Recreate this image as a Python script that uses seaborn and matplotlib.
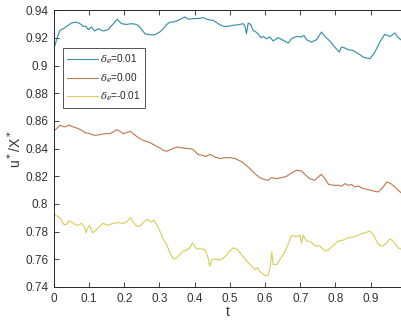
import numpy as np
import pandas as pd
import matplotlib
matplotlib.use("Agg")
import matplotlib.pyplot as plt
import seaborn as sns

# data, (t, u*/X*) pairs
pts_a = [(0.000, 0.912), (0.008, 0.919), (0.017, 0.9255), (0.027, 0.9267), (0.036, 0.9284), (0.050, 0.9308),
         (0.064, 0.9315), (0.074, 0.9303), (0.083, 0.9284), (0.091, 0.9284), (0.098, 0.926), (0.107, 0.9279),
         (0.116, 0.925), (0.126, 0.9267), (0.140, 0.925), (0.154, 0.926), (0.169, 0.9303), (0.180, 0.9335),
         (0.192, 0.9303), (0.206, 0.9298), (0.221, 0.9303), (0.235, 0.9298), (0.244, 0.9279), (0.259, 0.923),
         (0.273, 0.9223), (0.287, 0.9223), (0.301, 0.9243), (0.311, 0.9267), (0.320, 0.9296), (0.330, 0.9315),
         (0.339, 0.9315), (0.353, 0.9327), (0.363, 0.934), (0.372, 0.9352), (0.382, 0.9335), (0.396, 0.934),
         (0.410, 0.934), (0.424, 0.9347), (0.438, 0.9332), (0.453, 0.9327), (0.467, 0.9303), (0.481, 0.9284),
         (0.495, 0.9284), (0.509, 0.9291), (0.524, 0.9296), (0.538, 0.9303), (0.543, 0.9284), (0.547, 0.923),
         (0.552, 0.9308), (0.559, 0.9298), (0.566, 0.9255), (0.574, 0.9243), (0.580, 0.923), (0.588, 0.9202),
         (0.595, 0.9211), (0.604, 0.9194), (0.614, 0.9207), (0.623, 0.9178), (0.637, 0.9202), (0.652, 0.9182),
         (0.666, 0.9163), (0.675, 0.9194), (0.689, 0.9211), (0.704, 0.9207), (0.710, 0.9219), (0.718, 0.9187),
         (0.732, 0.917), (0.746, 0.9187), (0.760, 0.9243), (0.770, 0.9211), (0.784, 0.9178), (0.798, 0.9134),
         (0.811, 0.9098), (0.817, 0.9134), (0.827, 0.9127), (0.836, 0.9115), (0.850, 0.911), (0.865, 0.9086),
         (0.879, 0.9061), (0.898, 0.9049), (0.912, 0.9098), (0.926, 0.917), (0.940, 0.9226), (0.955, 0.9211),
         (0.969, 0.9236), (0.978, 0.9202), (0.989, 0.9182)]

pts_b = [(0.000, 0.8528), (0.008, 0.8545), (0.017, 0.8569), (0.025, 0.8562), (0.031, 0.8557), (0.044, 0.8569),
         (0.055, 0.8557), (0.069, 0.8545), (0.079, 0.8533), (0.088, 0.8516), (0.102, 0.8508), (0.116, 0.8496),
         (0.131, 0.8501), (0.145, 0.8508), (0.159, 0.8508), (0.169, 0.852), (0.178, 0.8537), (0.188, 0.8525),
         (0.197, 0.8508), (0.206, 0.8515), (0.218, 0.8525), (0.225, 0.8508), (0.235, 0.8489), (0.244, 0.8472),
         (0.259, 0.8455), (0.273, 0.8443), (0.287, 0.8424), (0.301, 0.8405), (0.311, 0.8388), (0.320, 0.8381),
         (0.334, 0.8395), (0.349, 0.8412), (0.363, 0.8405), (0.377, 0.8401), (0.392, 0.8398), (0.401, 0.838),
         (0.410, 0.8357), (0.420, 0.8352), (0.429, 0.8345), (0.434, 0.8345), (0.443, 0.8359), (0.457, 0.834),
         (0.472, 0.8328), (0.486, 0.8335), (0.500, 0.8335), (0.515, 0.8328), (0.529, 0.8311), (0.543, 0.8287),
         (0.557, 0.8255), (0.571, 0.8219), (0.585, 0.819), (0.599, 0.8176), (0.609, 0.8171), (0.618, 0.819),
         (0.633, 0.8183), (0.647, 0.819), (0.661, 0.82), (0.675, 0.8224), (0.689, 0.8243), (0.704, 0.8238),
         (0.713, 0.8214), (0.727, 0.8183), (0.741, 0.8171), (0.751, 0.8195), (0.760, 0.8214), (0.770, 0.8183),
         (0.780, 0.8142), (0.794, 0.8135), (0.808, 0.8135), (0.817, 0.8128), (0.827, 0.8147), (0.836, 0.8135),
         (0.846, 0.814), (0.855, 0.8123), (0.865, 0.813), (0.879, 0.8111), (0.893, 0.8104), (0.907, 0.8094),
         (0.921, 0.8087), (0.934, 0.8118), (0.946, 0.8159), (0.957, 0.8147), (0.969, 0.8123), (0.978, 0.8099),
         (0.989, 0.8075)]

pts_c = [(0.000, 0.7925), (0.009, 0.7913), (0.019, 0.7894), (0.028, 0.7852), (0.036, 0.7852), (0.043, 0.7877),
         (0.050, 0.787), (0.060, 0.7852), (0.069, 0.7845), (0.079, 0.786), (0.088, 0.7828), (0.091, 0.7792),
         (0.098, 0.7835), (0.102, 0.7845), (0.110, 0.7792), (0.116, 0.7804), (0.126, 0.7828), (0.140, 0.786),
         (0.154, 0.7845), (0.169, 0.786), (0.183, 0.7865), (0.197, 0.786), (0.206, 0.787), (0.218, 0.7901),
         (0.225, 0.787), (0.235, 0.784), (0.245, 0.784), (0.254, 0.7865), (0.265, 0.7889), (0.278, 0.787),
         (0.284, 0.7884), (0.292, 0.7852), (0.301, 0.7804), (0.311, 0.7744), (0.320, 0.7707), (0.330, 0.7647),
         (0.339, 0.7603), (0.349, 0.761), (0.358, 0.7635), (0.367, 0.7659), (0.377, 0.7666), (0.386, 0.7683),
         (0.394, 0.7719), (0.405, 0.7676), (0.420, 0.7676), (0.429, 0.767), (0.438, 0.7611), (0.443, 0.755),
         (0.448, 0.7594), (0.457, 0.7603), (0.472, 0.7594), (0.486, 0.7618), (0.500, 0.7659), (0.509, 0.7683),
         (0.521, 0.7671), (0.533, 0.7635), (0.548, 0.7586), (0.562, 0.755), (0.571, 0.7526), (0.578, 0.7538),
         (0.585, 0.7514), (0.595, 0.749), (0.602, 0.7482), (0.609, 0.7482), (0.614, 0.7538), (0.619, 0.7652),
         (0.623, 0.7562), (0.633, 0.7562), (0.642, 0.7599), (0.656, 0.7652), (0.669, 0.7732), (0.675, 0.7773),
         (0.688, 0.7763), (0.699, 0.7773), (0.704, 0.7715), (0.708, 0.7773), (0.718, 0.7732), (0.729, 0.7728),
         (0.741, 0.77), (0.756, 0.7695), (0.770, 0.7659), (0.780, 0.7668), (0.794, 0.77), (0.808, 0.7732),
         (0.822, 0.7739), (0.836, 0.7756), (0.855, 0.7763), (0.869, 0.778), (0.884, 0.7792), (0.898, 0.7804),
         (0.907, 0.778), (0.922, 0.7707), (0.934, 0.7695), (0.946, 0.772), (0.955, 0.7748), (0.964, 0.773),
         (0.978, 0.7683), (0.989, 0.7671)]

labels = [r'$\delta_e$=0.01', r'$\delta_e$=0.00', r'$\delta_e$=-0.01']
colors = ['#3f8fa6', '#c27c55', '#d8cf62']

x_ticks = [0, 0.1, 0.2, 0.3, 0.4, 0.5, 0.6, 0.7, 0.8, 0.9]
x_ticklabels = ['0', '0.1', '0.2', '0.3', '0.4', '0.5', '0.6', '0.7', '0.8', '0.9']
y_ticks = [0.74, 0.76, 0.78, 0.8, 0.82, 0.84, 0.86, 0.88, 0.9, 0.92, 0.94]
y_ticklabels = ['0.74', '0.76', '0.78', '0.8', '0.82', '0.84', '0.86', '0.88', '0.9', '0.92', '0.94']

sns.set_theme(style="white")
plt.rcParams['font.family'] = ['Liberation Sans', 'DejaVu Sans']
plt.rcParams['mathtext.fontset'] = 'dejavuserif'

fig = plt.figure(figsize=(4.02, 3.21), dpi=100)
ax = fig.add_axes([0.134, 0.106, 0.866, 0.862])

for pts, lab, col in zip([pts_a, pts_b, pts_c], labels, colors):
    df = pd.DataFrame(pts, columns=['t', 'u'])
    sns.lineplot(data=df, x='t', y='u', ax=ax, color=col, linewidth=0.85, label=lab)

ax.set_xlim(0, 0.989)
ax.set_ylim(0.74, 0.94)
ax.set_xticks(x_ticks)
ax.set_xticklabels(x_ticklabels)
ax.set_yticks(y_ticks)
ax.set_yticklabels(y_ticklabels)
ax.tick_params(direction='in', length=3.5, width=0.6, colors='#262626', labelsize=8.5,
               top=True, right=False, bottom=True, left=True, labelcolor='#333333', pad=4)
for side in ['left', 'bottom', 'top']:
    ax.spines[side].set_color('#262626')
    ax.spines[side].set_linewidth(0.7)
ax.spines['right'].set_visible(False)

ax.set_xlabel('t', fontsize=10, color='#333333', labelpad=0)
ax.set_ylabel(r'u$^*$/X$^*$', fontsize=10, color='#333333', labelpad=1)

leg = ax.legend(loc='upper left', bbox_to_anchor=(0.026, 0.863), borderaxespad=0, fontsize=7.2,
                frameon=True, fancybox=False, handlelength=3.1, borderpad=0.45, labelspacing=0.5,
                handletextpad=0.15)
leg.get_frame().set_edgecolor('#262626')
leg.get_frame().set_linewidth(0.7)
for line in leg.get_lines():
    line.set_linewidth(0.8)

fig.savefig('out.png', dpi=100)
